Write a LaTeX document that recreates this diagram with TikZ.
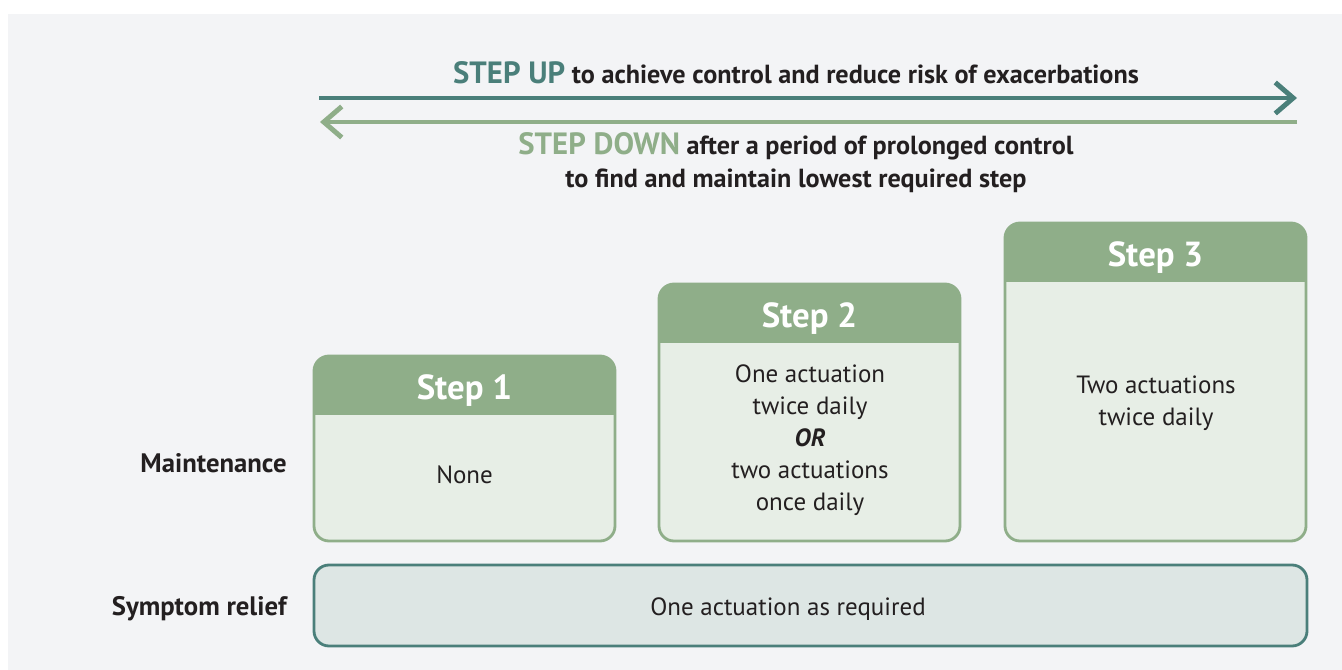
\documentclass[tikz,border=0pt]{standalone}
\usepackage{fontspec}
\setmainfont{PT Sans}
\usepackage{xcolor}
\usetikzlibrary{arrows.meta,positioning}

\definecolor{bggray}{HTML}{F3F4F6}
\definecolor{upteal}{HTML}{4A7F7A}
\definecolor{downgreen}{HTML}{8FAE89}
\definecolor{stepbody}{HTML}{E7EEE6}
\definecolor{relieffill}{HTML}{DDE6E4}
\definecolor{txt}{HTML}{231F20}

\tikzset{
  stephead/.style={text=white, font=\fontsize{19.8}{22}\selectfont\bfseries},
  steptext/.style={text=txt, align=center, font=\fontsize{14.2}{18.2}\selectfont},
  rowlabel/.style={text=txt, anchor=east, inner sep=0pt, font=\fontsize{15.2}{18}\selectfont\bfseries},
  steparrow/.style={line width=2.8pt, -{Straight Barb[length=0.36cm,width=0.62cm]}},
  titletext/.style={text=txt, align=center, font=\fontsize{14.9}{18.8}\selectfont\bfseries},
}

\begin{document}
\begin{tikzpicture}

\useasboundingbox (0,0) rectangle (26.84,-13.4);
\fill[bggray] (0.16,-0.28) rectangle (26.84,-13.4);

% step up / step down
\coordinate (upstart) at (6.38,-1.96);
\coordinate (upend) at (25.94,-1.96);
\coordinate (downstart) at (25.94,-2.44);
\coordinate (downend) at (6.40,-2.44);
\draw[steparrow, upteal] (upstart) -- (upend);
\draw[steparrow, downgreen] (downstart) -- (downend);

\node[titletext] (uptitle) at (15.92,-1.46) {\textcolor{upteal}{\fontsize{17.5}{19}\selectfont STEP UP} to achieve control and reduce risk of exacerbations};
\node[titletext] (downtitle) at (15.92,-3.25) {\textcolor{downgreen}{\fontsize{17.5}{19}\selectfont STEP DOWN} after a period of prolonged control\\to find and maintain lowest required step};

% the three steps
\foreach \n/\xl/\yt in {1/6.28/-7.12, 2/13.18/-5.68, 3/20.10/-4.46}{
  \begin{scope}
    \clip[rounded corners=0.3cm] (\xl,\yt) rectangle ({\xl+6.02},-10.82);
    \fill[stepbody] (\xl,\yt) rectangle ({\xl+6.02},-10.82);
    \fill[downgreen] (\xl,\yt) rectangle ({\xl+6.02},{\yt-1.18});
  \end{scope}
  \draw[downgreen, line width=1.6pt, rounded corners=0.3cm] (\xl,\yt) rectangle ({\xl+6.02},-10.82);
  \node[stephead] (step\n) at ({\xl+3.01},{\yt-0.69}) {Step \n};
}

\node[steptext] (none) at (9.29,-9.49) {None};
\node[steptext] (twodose) at (16.20,-8.81) {One actuation\\twice daily\\\textbf{\textit{OR}}\\two actuations\\once daily};
\node[steptext] (fourdose) at (23.12,-8.07) {Two actuations\\twice daily};

% rows
\node[rowlabel] (maint) at (5.74,-9.26) {Maintenance};
\node[rowlabel] (relieflabel) at (5.74,-12.18) {Symptom relief};

\node[draw=upteal, fill=relieffill, line width=1.6pt, rounded corners=0.3cm,
      minimum width=19.86cm, minimum height=1.62cm] (relief) at (16.21,-12.11) {};
\node[steptext] (reliefdose) at (15.76,-12.18) {One actuation as required};

\end{tikzpicture}
\end{document}
